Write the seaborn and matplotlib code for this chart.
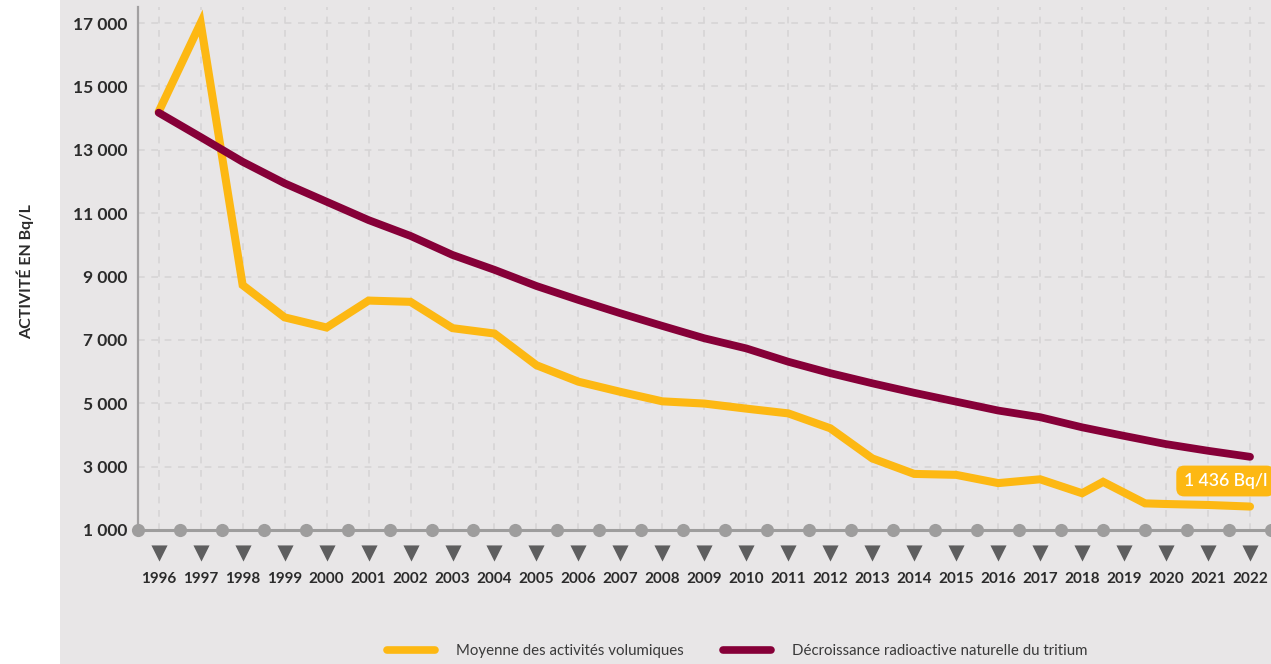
import numpy as np
import pandas as pd
import matplotlib
matplotlib.use("Agg")
import matplotlib.pyplot as plt
from matplotlib.patches import Rectangle
from matplotlib.lines import Line2D
import seaborn as sns

# data
years_mean = [1996, 1997, 1998, 1999, 2000, 2001, 2002, 2003, 2004, 2005,
              2006, 2007, 2008, 2009, 2010, 2011, 2012, 2013, 2014, 2015,
              2016, 2017, 2018, 2018.5, 2019.5, 2020, 2021, 2022]
mean_activity = [14200, 17000, 8730, 7710, 7390, 8240, 8200, 7370, 7200, 6200,
                 5680, 5360, 5060, 4990, 4830, 4680, 4210, 3260, 2770, 2740,
                 2480, 2600, 2160, 2520, 1840, 1820, 1790, 1740]

years_decay = list(range(1996, 2023))
decay_activity = [14170, 13400, 12620, 11940, 11360, 10780, 10280, 9680, 9210, 8700,
                  8260, 7840, 7440, 7050, 6730, 6310, 5950, 5630, 5330, 5050,
                  4770, 4560, 4240, 3970, 3710, 3500, 3310]

y_ticks = [1000, 3000, 5000, 7000, 9000, 11000, 13000, 15000, 17000]
last_label = "1 436 Bq/l"

YELLOW = "#FDB813"
MAROON = "#860038"
PANEL = "#E8E6E7"
GRID = "#D6D4D5"
DOTS = "#9E9D9D"
TRI = "#5E5E5F"
TEXT = "#2B2B2B"

sns.set_style("white")
plt.rcParams["font.family"] = ["Lato", "DejaVu Sans"]

W, H = 1271, 664
fig = plt.figure(figsize=(W / 100, H / 100), dpi=100, facecolor="white")
fig.patches.append(Rectangle((60 / W, 0), 1 - 60 / W, 1, transform=fig.transFigure,
                             facecolor=PANEL, edgecolor="none", zorder=-10))

ax = fig.add_axes([137.7 / W, (H - 530) / H, 1 - 137.7 / W, 523 / H])
ax.patch.set_alpha(0)

df_mean = pd.DataFrame({"year": years_mean, "value": mean_activity})
df_decay = pd.DataFrame({"year": years_decay, "value": decay_activity})

sns.lineplot(data=df_mean, x="year", y="value", ax=ax, color=YELLOW, lw=5.8,
             solid_capstyle="round", solid_joinstyle="miter", zorder=4, clip_on=False)
sns.lineplot(data=df_decay, x="year", y="value", ax=ax, color=MAROON, lw=5.6,
             solid_capstyle="round", solid_joinstyle="round", zorder=5, clip_on=False)

ax.set_xlim(1995.5, 2022.5)
ax.set_ylim(1000, 17505)

ax.set_xticks(years_decay)
ax.set_xticklabels([str(y) for y in years_decay])
ax.set_yticks(y_ticks)
ax.set_yticklabels([f"{v:,}".replace(",", " ") for v in y_ticks])
ax.tick_params(axis="x", length=0, pad=30, labelsize=11, labelcolor=TEXT)
ax.tick_params(axis="y", length=0, pad=7.5, labelsize=12.5, labelcolor=TEXT)
for lab in ax.get_xticklabels() + ax.get_yticklabels():
    lab.set_fontweight("bold")

ax.grid(True, color=GRID, lw=1.2, linestyle=(0, (4, 4)), zorder=1)
ax.set_axisbelow(True)
ax.set_xlabel("")
ax.set_ylabel("")

for side in ["top", "right", "bottom"]:
    ax.spines[side].set_visible(False)
ax.spines["left"].set_color("#A2A0A1")
ax.spines["left"].set_linewidth(1.6)

# base line with dots between the years and triangles under each year
ax.axhline(1000, color=DOTS, lw=2.2, zorder=3, clip_on=False)
half = np.arange(1995.5, 2023.0, 1.0)
ax.scatter(half, np.full(len(half), 1000), s=90, color=DOTS, zorder=3,
           clip_on=False, linewidths=0)
ax.scatter(years_decay, np.full(len(years_decay), 274), marker="v", s=135,
           color=TRI, zorder=3, clip_on=False, linewidths=0)

ax.text(2020.42, 2546, last_label, color="white", fontsize=12.7, fontweight="semibold",
        ha="left", va="center", zorder=6, clip_on=False,
        bbox=dict(boxstyle="round,pad=0.42,rounding_size=0.45", fc=YELLOW, ec="none"))

fig.text(25 / W, 1 - 272 / H, "ACTIVITÉ EN Bq/L", rotation=90, ha="center",
         va="center", fontsize=11.5, fontweight="bold", color=TEXT)

handles = [Line2D([], [], color=YELLOW, lw=5.5, solid_capstyle="round"),
           Line2D([], [], color=MAROON, lw=5.5, solid_capstyle="round")]
fig.legend(handles, ["Moyenne des activités volumiques",
                     "Décroissance radioactive naturelle du tritium"],
           loc="center", bbox_to_anchor=(737.5 / W, 1 - 651 / H), ncol=2,
           frameon=False, fontsize=10.8, handlelength=3.2, handletextpad=1.4,
           columnspacing=2.6, labelcolor="#3A3A3A")

fig.savefig("out.png", dpi=100, facecolor="white")
